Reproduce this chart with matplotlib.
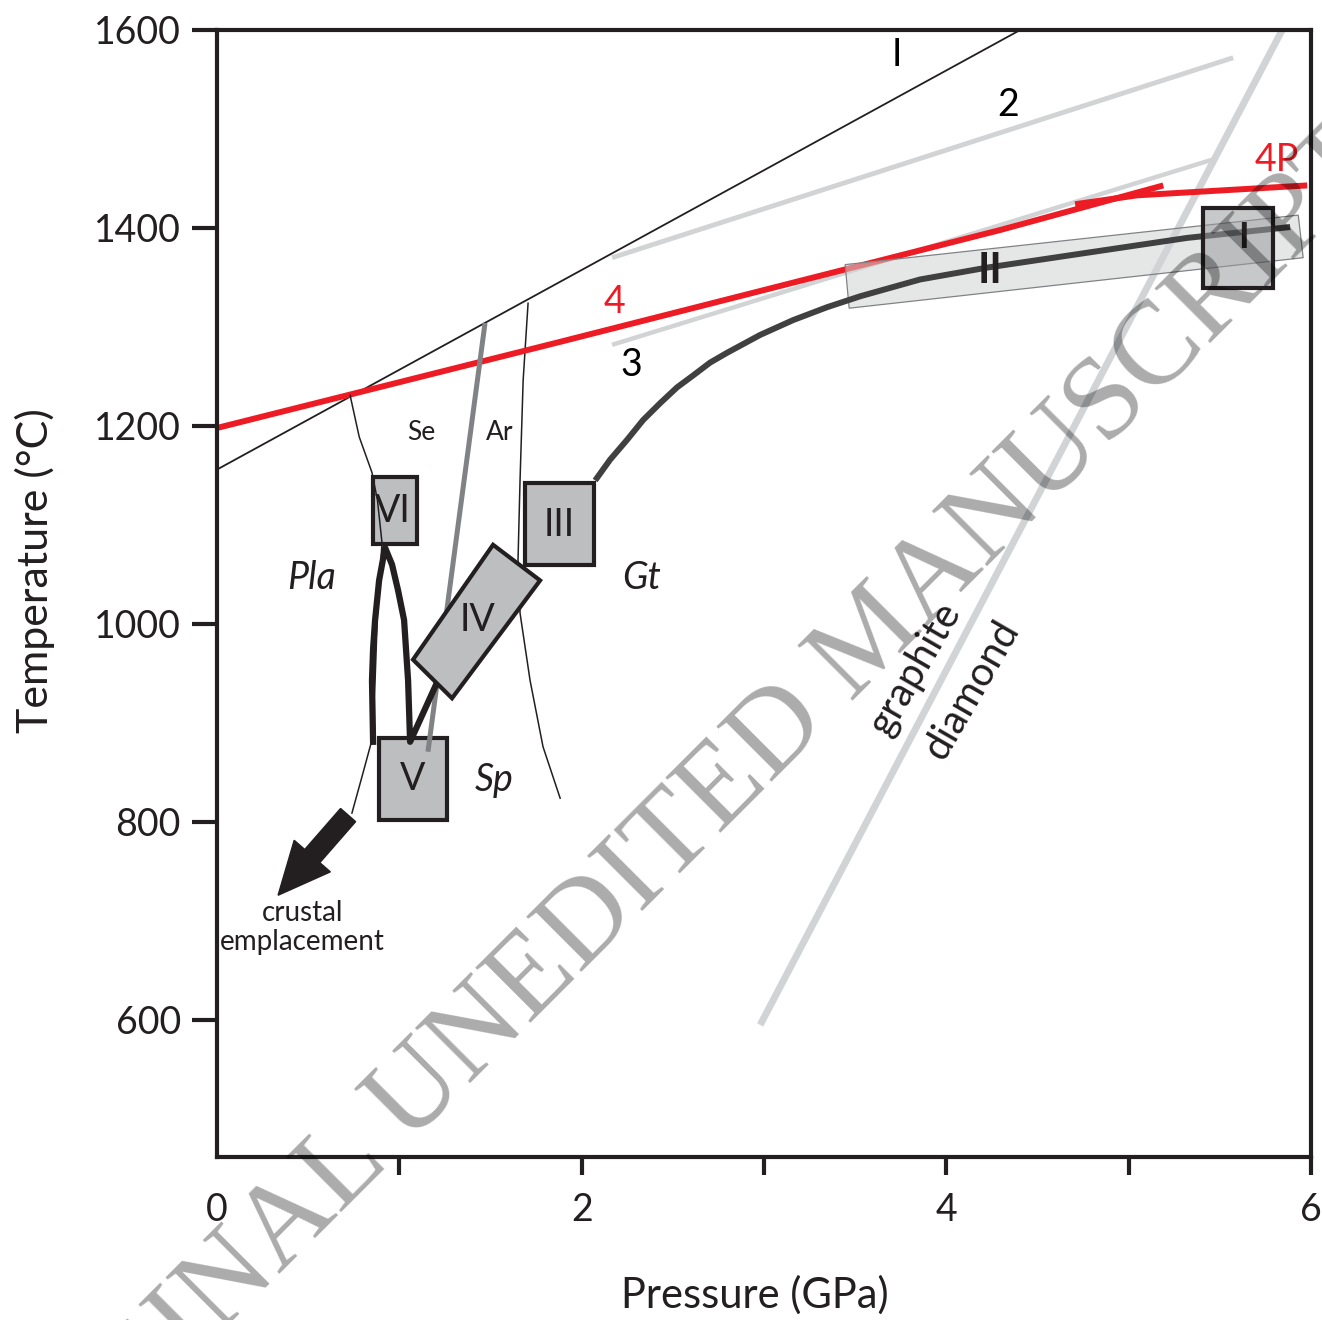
import numpy as np
import matplotlib
matplotlib.use("Agg")
import matplotlib.pyplot as plt
from matplotlib.patches import Rectangle, Polygon, FancyArrow
from matplotlib.transforms import ScaledTranslation

plt.rcParams['font.family'] = ['Lato', 'DejaVu Sans']

# P (GPa) / T (degC)
line1_p = [0.0, 4.405]
line1_t = [1156, 1600]
line2_p = [2.167, 5.573]
line2_t = [1370, 1572]
line3_p = [2.167, 5.458]
line3_t = [1282, 1469]
line4_p = [0.0, 1.882, 4.296, 5.19]
line4_t = [1198, 1285, 1398, 1443]
line4p_p = [4.706, 5.047, 5.979]
line4p_t = [1424, 1433, 1443]
gd_p = [2.979, 5.842]          # graphite / diamond
gd_t = [595, 1600]

geo_p = [2.074, 2.156, 2.249, 2.337, 2.430, 2.523, 2.611, 2.704, 2.798, 2.979, 3.160,
         3.346, 3.527, 3.856, 4.224, 4.772, 5.321, 5.886]
geo_t = [1145, 1166, 1186, 1206, 1223, 1239, 1251, 1264, 1274, 1292, 1307,
         1320, 1331, 1348, 1360, 1375, 1390, 1401]

se_ar_p = [1.470, 1.157]
se_ar_t = [1304, 871]
pla_se_p = [0.73, 0.78, 0.85, 0.88, 0.905, 0.88, 0.867, 0.85, 0.80, 0.74]
pla_se_t = [1231, 1189, 1153, 1125, 1082, 1011, 943, 883, 849, 809]
ar_gt_p = [1.706, 1.679, 1.662, 1.651, 1.662, 1.717, 1.788, 1.882]
ar_gt_t = [1324, 1246, 1145, 1065, 1011, 943, 876, 824]

loop_p = [0.856, 0.850, 0.856, 0.867, 0.889, 0.922, 0.960, 0.993, 1.026, 1.048, 1.059, 1.207]
loop_t = [881, 943, 975, 1004, 1044, 1077, 1060, 1034, 1004, 943, 881, 941]

band_p = [3.445, 5.93, 5.957, 3.467]
band_t = [1363, 1413, 1370, 1319]

# boxes: p0, p1, t0, t1
boxes = {
    "VI": (0.856, 1.097, 1081, 1148),
    "V": (0.889, 1.262, 802, 885),
    "III": (1.690, 2.068, 1060, 1142),
}
box1 = (5.41, 5.79, 1339, 1420)
iv_p = [1.514, 1.772, 1.289, 1.075]
iv_t = [1080, 1044, 925, 964]

arrow_from = (0.719, 807)
arrow_to = (0.335, 726)

labels = [
    ("I", 3.73, 1575, "black", "normal", "normal", 27, 0),
    ("2", 4.34, 1524, "black", "normal", "normal", 27, 0),
    ("3", 2.27, 1262, "black", "normal", "normal", 27, 0),
    ("4", 2.18, 1325, "#ed1c24", "normal", "normal", 27, 0),
    ("4P", 5.81, 1469, "#ed1c24", "normal", "normal", 27, 0),
    ("Se", 1.12, 1193, "#231f20", "normal", "normal", 19, 0),
    ("Ar", 1.55, 1193, "#231f20", "normal", "normal", 19, 0),
    ("Pla", 0.52, 1046, "#231f20", "italic", "normal", 27, 0),
    ("Gt", 2.33, 1046, "#231f20", "italic", "normal", 27, 0),
    ("Sp", 1.52, 842, "#231f20", "italic", "normal", 27, 0),
    ("VI", 0.965, 1114, "#231f20", "normal", "normal", 27, 0),
    ("V", 1.075, 843, "#231f20", "normal", "normal", 27, 0),
    ("III", 1.876, 1100, "#231f20", "normal", "normal", 27, 0),
    ("IV", 1.426, 1004, "#231f20", "normal", "normal", 27, 0),
    ("II", 4.24, 1357, "#231f20", "normal", "bold", 30, 0),
    ("I", 5.63, 1390, "#231f20", "normal", "bold", 26, 0),
    ("graphite", 3.83, 955, "#231f20", "normal", "normal", 29, 60),
    ("diamond", 4.14, 933, "#231f20", "normal", "normal", 29, 60),
    ("crustal\nemplacement", 0.47, 693, "#231f20", "normal", "normal", 20, 0),
]

fig = plt.figure(figsize=(13.22, 13.20), dpi=100)
ax = fig.add_axes([217 / 1322, 1 - 1157 / 1320, (1311 - 217) / 1322, (1157 - 30) / 1320])
ax.set_xlim(0, 6)
ax.set_ylim(461.6, 1600)

lgray = "#d1d3d4"
ax.plot(gd_p, gd_t, color=lgray, lw=5, solid_capstyle="butt", zorder=1)
ax.plot(line2_p, line2_t, color=lgray, lw=3.5, solid_capstyle="butt", zorder=1)
ax.plot(line3_p, line3_t, color=lgray, lw=3.2, solid_capstyle="butt", zorder=1)
ax.plot(line1_p, line1_t, color="#231f20", lw=1.3, zorder=2)
ax.plot(line4_p, line4_t, color="#ed1c24", lw=4.3, solid_capstyle="butt", zorder=2.5)
ax.plot(line4p_p, line4p_t, color="#ed1c24", lw=4.3, solid_capstyle="butt", zorder=2.5)

ax.add_patch(Polygon(np.column_stack([band_p, band_t]), closed=True,
                     facecolor=(0.82, 0.83, 0.83, 0.55), edgecolor="#808285", lw=0.9, zorder=3))
ax.plot(geo_p, geo_t, color="#404041", lw=4.3, solid_capstyle="butt",
        solid_joinstyle="round", zorder=3.5)

for name, (p0, p1, t0, t1) in boxes.items():
    ax.add_patch(Rectangle((p0, t0), p1 - p0, t1 - t0, facecolor="#bcbec0",
                           edgecolor="#231f20", lw=3, zorder=3))
ax.add_patch(Rectangle((box1[0], box1[2]), box1[1] - box1[0], box1[3] - box1[2],
                       facecolor=(0.6, 0.61, 0.62, 0.55), edgecolor="#231f20", lw=3, zorder=4))

ax.plot(pla_se_p, pla_se_t, color="#231f20", lw=1.1, zorder=4)
ax.plot(ar_gt_p, ar_gt_t, color="#231f20", lw=1.1, zorder=2)
ax.plot(se_ar_p, se_ar_t, color="#808285", lw=3.6, solid_capstyle="butt", zorder=4)
ax.plot(loop_p, loop_t, color="#231f20", lw=4.5, solid_joinstyle="round", zorder=4.5)
ax.add_patch(Polygon(np.column_stack([iv_p, iv_t]), closed=True, facecolor="#bcbec0",
                     edgecolor="#231f20", lw=3, zorder=5))

# crustal emplacement arrow, shape fixed in inches
p0 = ax.transData.transform(arrow_from)
p1 = ax.transData.transform(arrow_to)
d = (p1 - p0) / fig.dpi
arr = FancyArrow(0, 0, d[0], d[1], width=0.2, head_width=0.48, head_length=0.52,
                 length_includes_head=True, color="#231f20", zorder=6,
                 transform=fig.dpi_scale_trans + ScaledTranslation(arrow_from[0], arrow_from[1], ax.transData))
ax.add_patch(arr)

for txt, p, t, c, style, weight, fs, rot in labels:
    ax.text(p, t, txt, color=c, style=style, fontweight=weight, fontsize=fs, rotation=rot,
            ha="center", va="center", zorder=7, linespacing=1.15)

# axes styling
for s in ax.spines.values():
    s.set_linewidth(3)
    s.set_color("#231f20")
ax.set_yticks([600, 800, 1000, 1200, 1400, 1600])
ax.set_xticks([0, 1, 2, 3, 4, 5, 6])
ax.set_xticklabels(["0", "", "2", "", "4", "", "6"])
ax.xaxis.get_major_ticks()[0].tick1line.set_visible(False)
ax.tick_params(axis="y", direction="out", length=18, width=3, pad=8, labelsize=27,
               colors="#231f20")
ax.tick_params(axis="x", direction="out", length=13, width=3, pad=12, labelsize=27,
               colors="#231f20")
ax.set_xlabel("Pressure (GPa)", fontsize=30, color="#231f20")
ax.set_ylabel("Temperature (°C)", fontsize=31, color="#231f20")
ax.xaxis.set_label_coords(0.492, -0.105)
ax.yaxis.set_label_coords(-0.148, 0.52)

# watermark
fig.text(0.5053, 0.3598, "ORIGINAL UNEDITED MANUSCRIPT", rotation=45, rotation_mode="anchor",
         ha="center", va="center", fontsize=85, family="Liberation Serif",
         color="black", alpha=0.33, zorder=10)

fig.savefig("out.png", dpi=100)
